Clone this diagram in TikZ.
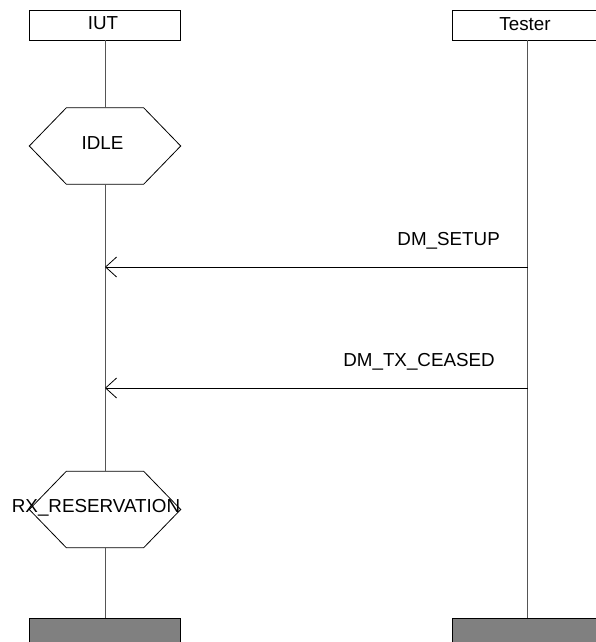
\documentclass[tikz,border=0pt]{standalone}
\usepackage{fontspec}
\setmainfont{Liberation Sans}
\usetikzlibrary{arrows.meta}
\definecolor{footgray}{HTML}{808080}
\definecolor{linegray}{HTML}{555555}
\begin{document}
\begin{tikzpicture}[x=1pt,y=-1pt,
  every node/.style={font=\fontsize{18.8}{22}\selectfont, inner sep=0pt},
  headbox/.style={draw, line width=0.8pt, minimum width=151pt, minimum height=30pt},
  footbox/.style={draw, line width=0.8pt, fill=footgray, minimum width=151pt, minimum height=30pt},
  hexbox/.style={minimum width=151pt, minimum height=76pt},
  life/.style={draw=linegray, line width=0.8pt},
  msg/.style={line width=0.8pt, -{Straight Barb[length=11pt,width=20pt,line width=0.8pt]}},
  hexline/.style={line width=0.8pt},
  txt/.style={anchor=base}
]
\useasboundingbox (0,0) rectangle (596,642);
\clip (0,0) rectangle (596,642);

% heads
\node[headbox] (iut) at (105,25) {};
\node[txt] (iutt) at (103,30) {IUT};
\node[headbox] (tester) at (527.5,25) {};
\node[txt] (testert) at (525,31) {Tester};

% states
\node[hexbox] (idle) at (105,146) {};
\draw[hexline] (idle.west) -- ([xshift=37pt]idle.north west) -- ([xshift=-37pt]idle.north east)
  -- (idle.east) -- ([xshift=-37pt]idle.south east) -- ([xshift=37pt]idle.south west) -- cycle;
\node[txt] (idlet) at (102.5,149) {IDLE};

\node[hexbox] (rx) at (105,509.5) {};
\draw[hexline] (rx.west) -- ([xshift=37pt]rx.north west) -- ([xshift=-37pt]rx.north east)
  -- (rx.east) -- ([xshift=-37pt]rx.south east) -- ([xshift=37pt]rx.south west) -- cycle;
\node[txt] (rxt) at (96,512) {RX\_RESERVATION};

% feet
\node[footbox] (iutend) at (105,633) {};
\node[footbox] (testerend) at (527.5,633) {};

% lifelines
\draw[life] (iut.south) -- (idle.north);
\draw[life] (idle.south) -- (rx.north);
\draw[life] (rx.south) -- (iutend.north);
\draw[life] (tester.south) -- (testerend.north);

% messages
\coordinate (s1) at (527.5,267);
\coordinate (r1) at (105,267);
\coordinate (s2) at (527.5,388);
\coordinate (r2) at (105,388);
\draw[msg] (s1) -- (r1);
\draw[msg] (s2) -- (r2);
\node[anchor=base east] (l1) at (500,245) {DM\_SETUP};
\node[anchor=base east] (l2) at (495,366) {DM\_TX\_CEASED};
\end{tikzpicture}
\end{document}
